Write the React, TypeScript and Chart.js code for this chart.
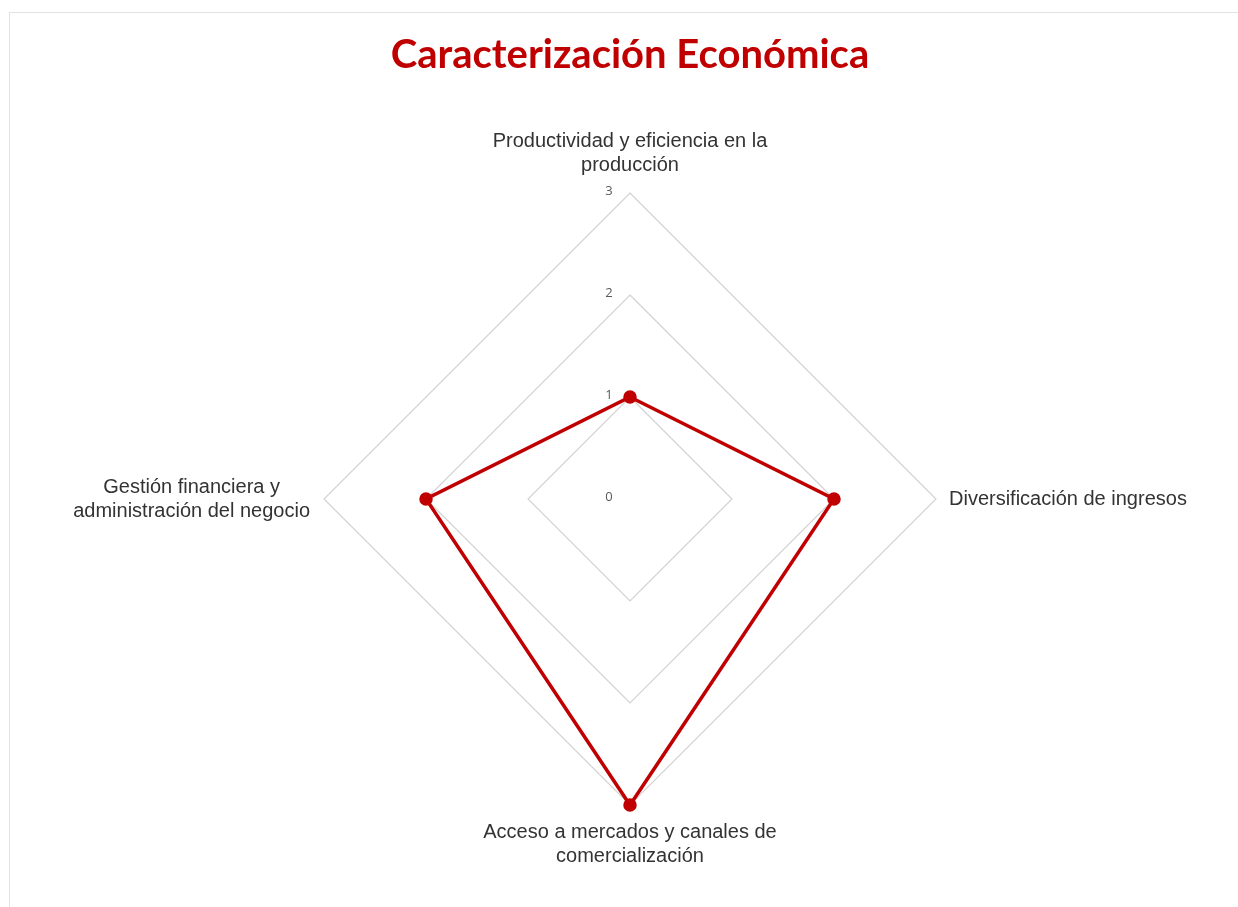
import React, { useEffect, useRef } from "react";
import { Chart, registerables } from "chart.js";

Chart.register(...registerables);

const TITLE = "Caracterización Económica";
const CATEGORIES: string[][] = [
  ["Productividad y eficiencia en la", "producción"],
  ["Diversificación de ingresos"],
  ["Acceso a mercados y canales de", "comercialización"],
  ["Gestión financiera y", "administración del negocio"],
];
const VALUES: number[] = [1, 2, 3, 2];
const TICK_VALUES: number[] = [0, 1, 2, 3];

const RED = "#C00000";

const customLabels = {
  id: "customLabels",
  afterDraw(chart: any) {
    const scale = chart.scales.r;
    const ctx = chart.ctx;
    ctx.save();
    // tick labels
    ctx.font = "13px 'Open Sans', sans-serif";
    ctx.fillStyle = "#595959";
    ctx.textAlign = "center";
    ctx.textBaseline = "middle";
    TICK_VALUES.forEach((v) => {
      const d = scale.getDistanceFromCenterForValue(v);
      ctx.fillText(String(v), scale.xCenter - 21, scale.yCenter - d - 2);
    });
    // point labels
    const fontSize = 20;
    const lh = 24;
    ctx.font = `${fontSize}px 'Liberation Sans', Arial, sans-serif`;
    ctx.fillStyle = "#333333";
    ctx.textBaseline = "middle";
    ctx.textAlign = "center";
    CATEGORIES.forEach((lines, i) => {
      const p = scale.getPointPosition(i, scale.drawingArea);
      const dx = p.x - scale.xCenter;
      const dy = p.y - scale.yCenter;
      const maxW = Math.max(...lines.map((l) => ctx.measureText(l).width));
      const n = lines.length;
      lines.forEach((line, k) => {
        let x = p.x;
        let y = p.y;
        if (Math.abs(dx) < 1) {
          if (dy < 0) {
            y = p.y - 16 - lh / 2 - (n - 1 - k) * lh;
          } else {
            y = p.y + 15 + lh / 2 + k * lh;
          }
        } else {
          y = p.y - ((n - 1) * lh) / 2 + k * lh;
          if (dx > 0) x = p.x + 13 + maxW / 2;
          else x = p.x - 14 - maxW / 2;
        }
        ctx.fillText(line, x, y);
      });
    });
    ctx.restore();
  },
};

export default function App() {
  const ref = useRef<HTMLCanvasElement | null>(null);
  useEffect(() => {
    if (!ref.current) return;
    const chart = new Chart(ref.current, {
      type: "radar",
      data: {
        labels: CATEGORIES,
        datasets: [
          {
            data: VALUES,
            borderColor: RED,
            backgroundColor: RED,
            borderWidth: 3.5,
            pointRadius: 5,
            pointBackgroundColor: RED,
            pointBorderColor: RED,
            fill: false,
          },
        ],
      },
      options: {
        responsive: false,
        animation: false,
        layout: { padding: { left: 324, right: 302, top: 0, bottom: 102 } },
        plugins: {
          legend: { display: false },
          tooltip: { enabled: false },
          title: {
            display: true,
            text: TITLE,
            color: RED,
            font: { family: "Lato, 'Open Sans', sans-serif", size: 40, weight: "bold", lineHeight: "46px" },
            padding: { top: 32, bottom: 115 },
          },
        },
        scales: {
          r: {
            min: 0,
            max: 3,
            ticks: { display: false, stepSize: 1 },
            grid: { color: "#d2d2d2", lineWidth: 1.2 },
            angleLines: { display: false },
            pointLabels: { display: false },
          },
        },
      },
      plugins: [customLabels],
    });
    return () => chart.destroy();
  }, []);
  return (
    <>
      <div
        style={{
          position: "fixed",
          left: 9,
          top: 12,
          width: 1300,
          height: 1000,
          border: "1px solid #e2e2e2",
          boxSizing: "border-box",
        }}
      />
      <canvas
        ref={ref}
        width={1238}
        height={907}
        style={{ position: "fixed", left: 0, top: 0, display: "block", width: 1238, height: 907 }}
      />
    </>
  );
}
